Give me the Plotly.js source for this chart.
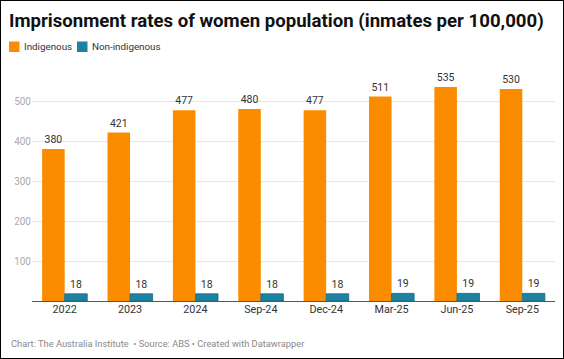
<!DOCTYPE html>
<html><head><meta charset="utf-8">
<script src="https://cdn.plot.ly/plotly-3.0.1.min.js"></script>
<style>
html,body{margin:0;padding:0;background:#fff;}
#wrap{position:relative;width:564px;height:359px;}
#chart{width:564px;height:359px;}
#frame{position:absolute;left:0;top:0;width:564px;height:359px;box-sizing:border-box;border:1px solid #000;pointer-events:none;}
</style></head>
<body>
<div id="wrap"><div id="chart"></div><div id="frame"></div></div>
<script>
const categories = ["2022","2023","2024","Sep-24","Dec-24","Mar-25","Jun-25","Sep-25"];
const indigenous = [380,421,477,480,477,511,535,530];
const nonIndigenous = [18,18,18,18,18,19,19,19];
const yTicks = [100,200,300,400,500];
const seriesNames = ["Indigenous","Non-indigenous"];
const seriesColors = ["#fb8c00","#1d81a2"];

const font = "Roboto, 'Noto Sans', sans-serif";
const traces = [
  {type:"bar", name:seriesNames[0], x:categories, y:indigenous,
   marker:{color:seriesColors[0], line:{width:0}},
   text:indigenous.map(String), textposition:"outside", cliponaxis:false,
   textfont:{family:font, size:10.5, color:"#333"}},
  {type:"bar", name:seriesNames[1], x:categories, y:nonIndigenous,
   marker:{color:seriesColors[1], line:{color:"#17677f", width:0.8}},
   text:nonIndigenous.map(String), textposition:"outside", cliponaxis:false,
   textfont:{family:font, size:10.5, color:"#333"}}
];

// plot area geometry helpers (pixels -> paper)
const L=32, R=9, T=77, B=58, W=564, H=359;
const pw=W-L-R, ph=H-T-B;
const px=x=>(x-L)/pw, py=y=>(H-B-y)/ph;

// manual legend
const legendX=[9,77];
const shapes=[], annotations=[];
seriesNames.forEach((n,i)=>{
  shapes.push({type:"rect", xref:"paper", yref:"paper",
    x0:px(legendX[i]), x1:px(legendX[i]+10.5), y0:py(52), y1:py(41.5),
    fillcolor:seriesColors[i], line:{width:0}});
  annotations.push({text:n, xref:"paper", yref:"paper", x:px(legendX[i]+12.5), y:py(46.8),
    xanchor:"left", yanchor:"middle", showarrow:false,
    font:{family:font, size:9.8, color:"#333"}});
});
annotations.push({text:"Chart: The Australia Institute  • Source: ABS • Created with Datawrapper",
    xref:"paper", yref:"paper", x:px(9), y:py(343.5), xanchor:"left", yanchor:"middle",
    showarrow:false, font:{family:font, size:9.3, color:"#8a8a8a"}});

const layout = {
  width:W, height:H,
  margin:{l:L, r:R, t:T, b:B},
  paper_bgcolor:"#fff", plot_bgcolor:"#fff",
  font:{family:font, color:"#333"},
  title:{text:"<b>Imprisonment rates of women population (inmates per 100,000)</b>",
    xref:"container", yref:"container", x:9/564, xanchor:"left",
    y:1-20/359, yanchor:"middle", font:{family:font, size:18.6, color:"#111"}},
  barmode:"group", bargap:0.31, bargroupgap:0,
  showlegend:false,
  xaxis:{type:"category", showgrid:false, zeroline:false, showline:false,
    ticks:"", tickfont:{family:font, size:10.8, color:"#333"}},
  yaxis:{range:[0,560], tickvals:yTicks, ticktext:yTicks.map(String),
    showgrid:true, gridcolor:"#e6e6e6", gridwidth:1,
    zeroline:true, zerolinecolor:"#555", zerolinewidth:1,
    showline:false, ticks:"", tickfont:{family:font, size:10, color:"#aaa"}},
  shapes:shapes,
  annotations:annotations
};
Plotly.newPlot("chart", traces, layout, {staticPlot:true, displayModeBar:false});
</script>
</body></html>
